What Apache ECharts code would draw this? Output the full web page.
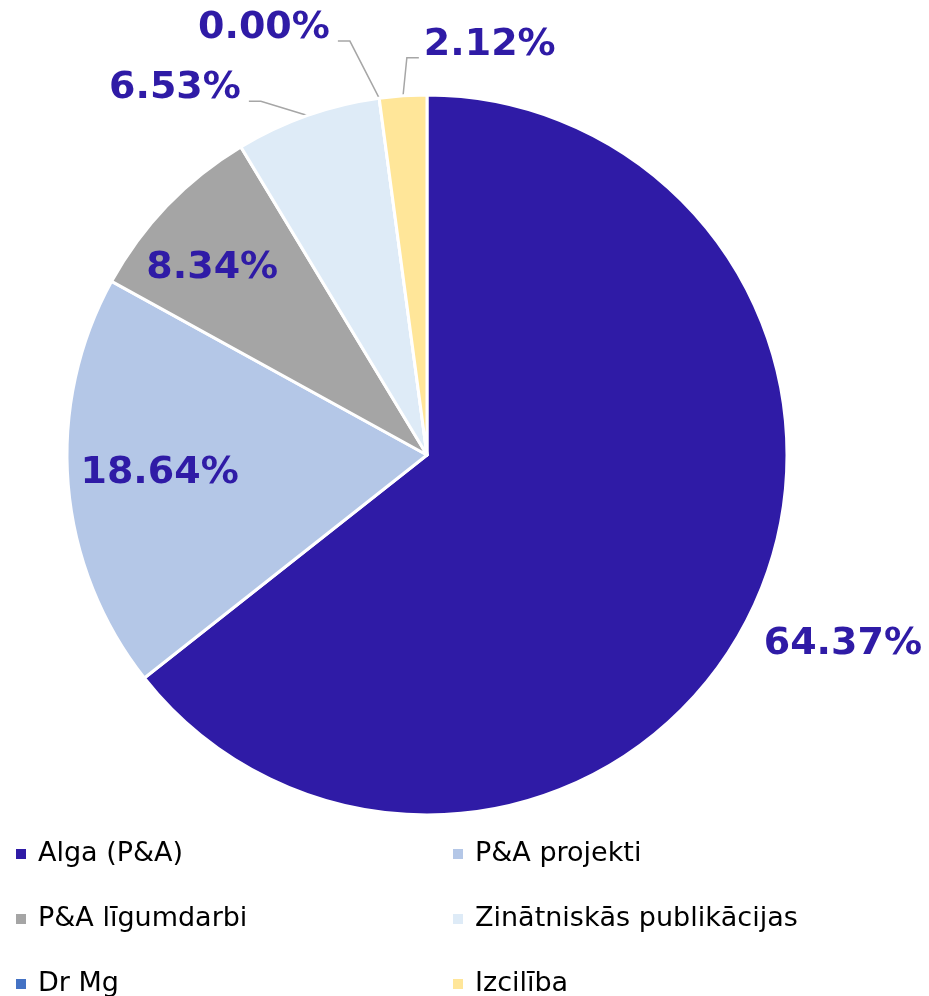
<!DOCTYPE html>
<html>
<head>
<meta charset="utf-8">
<script src="https://cdn.jsdelivr.net/npm/echarts@6/dist/echarts.min.js"></script>
<style>
  html, body { margin: 0; padding: 0; background: #fff; }
  #chart { width: 929px; height: 996px; }
</style>
</head>
<body>
<div id="chart"></div>
<script>
  // dati
  var categories = ['Alga (P&A)', 'P&A projekti', 'P&A līgumdarbi', 'Zinātniskās publikācijas', 'Dr Mg', 'Izcilība']
  var shares = [64.37, 18.64, 8.34, 6.53, 0.00, 2.12]
  var colors = ['#2f1ba6', '#b4c7e7', '#a5a5a5', '#deebf7', '#4472c4', '#ffe699']

  // label placement (angle clockwise from 12 o'clock, distance from centre)
  var labelAngle = [114.5, 266.2, 311.1, 325.5, 339.1, 8.7]
  var labelRadius = [457, 268, 285, 445, 457, 415]
  var lineSide = [0, 0, 0, -1, -1, 1] // -1 label left of line, 1 label right

  var cx = 427, cy = 455, R = 360

  function polar(deg, r) {
    var a = deg * Math.PI / 180
    return [cx + r * Math.sin(a), cy - r * Math.cos(a)]
  }

  var total = shares.reduce(function (s, v) { return s + v }, 0)
  var midAngle = []
  var acc = 0
  shares.forEach(function (v) {
    midAngle.push((acc + v / 2) / total * 360)
    acc += v
  })

  var myChart = echarts.init(document.getElementById('chart'))
  myChart.setOption({
    backgroundColor: '#fff',
    color: colors,
    legend: {
      data: categories,
      left: 11,
      top: 829,
      width: 900,
      icon: 'rect',
      itemWidth: 10,
      itemHeight: 10,
      itemGap: 25,
      selectedMode: false,
      itemStyle: { borderWidth: 0 },
      textStyle: {
        fontFamily: 'DejaVu Sans',
        fontSize: 27,
        color: '#000',
        width: 390,
        lineHeight: 40,
        padding: [0, 0, 0, 7]
      }
    },
    series: [
      {
        type: 'pie',
        center: [cx, cy],
        radius: R,
        startAngle: 90,
        clockwise: true,
        avoidLabelOverlap: false,
        animation: false,
        itemStyle: {
          borderColor: '#fff',
          borderWidth: 3
        },
        label: {
          show: true,
          position: 'outside',
          overflow: 'none',
          fontFamily: 'DejaVu Sans',
          fontWeight: 'bold',
          fontSize: 38,
          color: '#2f1ba6',
          formatter: function (p) { return p.value.toFixed(2) + '%' }
        },
        labelLine: {
          show: true,
          lineStyle: { color: '#a6a6a6', width: 1.5 }
        },
        labelLayout: function (p) {
          var i = p.dataIndex
          var pos = polar(labelAngle[i], labelRadius[i])
          var res = { x: pos[0], y: pos[1], align: 'center', verticalAlign: 'middle' }
          if (lineSide[i]) {
            var w = p.labelRect.width
            var ly = pos[1] + 13
            var endX = lineSide[i] < 0 ? pos[0] + w / 2 + 8 : pos[0] - w / 2 - 5
            var bendX = endX - lineSide[i] * 12
            res.labelLinePoints = [polar(midAngle[i], R), [bendX, ly], [endX, ly]]
          }
          return res
        },
        data: categories.map(function (name, i) {
          return {
            name: name,
            value: shares[i],
            labelLine: { show: lineSide[i] !== 0 }
          }
        })
      }
    ]
  })
</script>
</body>
</html>
